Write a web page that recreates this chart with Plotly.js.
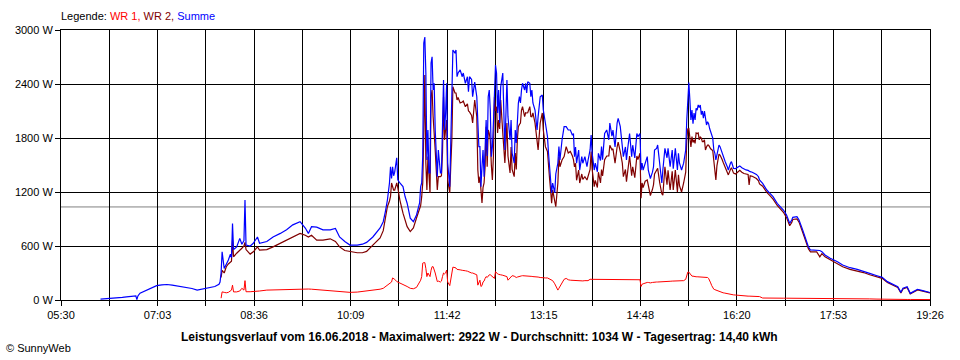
<!DOCTYPE html>
<html><head><meta charset="utf-8">
<script src="https://cdn.plot.ly/plotly-3.0.1.min.js"></script>
<style>html,body{margin:0;padding:0;background:#fff}#chart{width:960px;height:360px}</style>
</head><body><div id="chart"></div>
<script>
// time axis: minutes since midnight
const startMin = 330;   // 05:30
const endMin = 1166;    // 19:26
const tickLabels = ['05:30','07:03','08:36','10:09','11:42','13:15','14:48','16:20','17:53','19:26'];
const yTicks = [0, 600, 1200, 1800, 2400, 3000];
const durchschnitt = 1034;
const maximalwert = 2922;
const tagesertrag = '14,40';
const datum = '16.06.2018';

// early morning: only the sum is recorded
const morningTime = [368,377,382,389,393,399,402,403,404,406,411,416,422,427,432,437,442,446,451,456,461,466,470,474,478,482,483];
const morningSumme = [10,15,20,30,35,40,45,5,45,75,100,130,160,168,172,165,155,150,145,128,110,120,130,140,150,175,200];

const dayTime = [
484,485,487,489,491,493,494,495,496,499,
502,504,506,507,508,512,515,519,521,528,
534,541,547,553,560,565,568,571,576,582,
589,594,598,603,608,615,620,624,630,637,
640,642,644,646,647,648,649,650,651,653,
654,656,659,661,663,666,669,672,675,676,
677,678,679,680,681,682,683,684,685,686,
687,688,689,690,692,693,695,696,697,698,
699,700,701,702,704,705,706,707,709,710,
711,712,714,716,717,719,721,722,723,725,
726,728,730,731,732,733,734,735,736,737,
738,739,740,741,742,743,744,745,746,747,
748,749,750,751,752,753,755,757,759,760,
762,763,764,766,767,768,769,770,771,772,
773,774,776,777,778,779,781,782,783,784,
786,788,789,791,793,794,796,798,799,800,
801,802,803,805,806,808,809,810,812,814,
816,818,820,822,823,824,825,826,828,829,
831,832,834,836,837,839,840,841,843,844,
846,847,849,850,851,853,855,857,858,860,
861,863,865,866,868,870,871,873,874,875,
877,879,880,882,884,885,887,888,889,890,
892,894,895,897,899,900,901,903,904,906,
908,909,911,913,914,916,918,919,921,923,
924,925,927,929,931,932,933,934,935,936,
937,938,939,940,941,942,943,944,945,946,
947,948,949,950,951,952,953,954,955,956,
957,958,959,960,961,962,963,964,965,966,
967,968,969,971,972,974,975,976,977,979,
981,983,985,987,989,991,992,993,995,997,
999,1001,1002,1005,1009,1012,1015,1019,1022,1025,
1028,1031,1033,1034,1038,1040,1043,1046,1049,1051,
1057,1060,1062,1065,1070,1077,1082,1089,1096,1102,
1108,1115,1120,1125,1130,1135,1138,1140,1144,1147,
1150,1154,1159,1164,1166];

const daySumme = [
300,535,350,390,445,510,470,850,560,590,
685,620,660,1110,610,600,630,700,630,650,
700,740,780,835,870,800,740,815,810,780,
780,795,700,650,610,610,620,640,700,800,
870,980,1110,1300,1480,1350,1480,1380,1420,1580,
1335,1300,1260,1150,1075,910,870,945,1078,1259,
1300,1593,2856,2922,2522,1556,1889,1411,1411,2633,
2703,2333,2408,1889,1370,1667,1411,1411,1815,2444,
1889,2075,2408,1522,1259,1889,2522,2778,2744,2778,
2481,2522,2556,2481,2522,2408,2481,2314,2481,2450,
2259,2420,2259,1889,1704,1704,1259,1480,1667,1370,
1704,2000,1600,2259,2333,2111,1593,1700,1967,2408,
2611,2522,2078,2333,1967,2370,2522,1667,2444,2037,
1778,2000,1633,1522,1889,1744,2078,2189,2259,2189,
2333,2408,2333,2408,2300,2425,2408,2259,2333,2189,
2111,1889,2037,2259,2278,2111,1967,1815,1633,1444,
1300,1189,1300,1189,1400,1522,1704,1556,1778,1926,
1926,1889,1889,1830,1850,1593,1700,1520,1667,1444,
1593,1520,1593,1481,1550,1667,1833,1630,1444,1520,
1425,1630,1550,1704,1560,1850,1889,1780,1967,1820,
1889,1700,1967,2019,1930,1740,1593,1700,1556,1667,
1850,1593,1720,1578,1850,1815,1850,1444,1520,1444,
1522,1593,1444,1350,1420,1480,1667,1685,1722,1520,
1300,1444,1685,1580,1685,1480,1667,1460,1685,1444,
1630,1520,1444,1520,1667,2000,2300,2415,2222,2000,
2111,1960,2078,2000,2130,2110,2167,2140,2167,2060,
2100,2019,2100,1990,1945,1980,1960,1905,1870,1833,
1800,1667,1633,1556,1611,1667,1722,1704,1667,1630,
1593,1556,1537,1481,1444,1519,1537,1500,1463,1460,
1480,1490,1470,1455,1445,1440,1430,1426,1420,1407,
1395,1370,1333,1296,1222,1185,1148,1074,1037,1000,
944,852,889,919,926,889,796,685,592,556,
556,550,537,500,463,426,389,359,341,322,
296,270,252,204,178,148,85,130,148,74,
93,119,104,85,83];

const dayWR2 = [
250,330,300,370,400,420,430,665,480,520,
560,575,600,640,560,510,535,590,555,560,
590,630,665,700,740,720,700,720,665,665,
680,650,590,550,540,525,525,540,610,690,
770,910,1037,1100,1150,1300,1250,1220,1220,1300,
1250,1110,965,890,815,760,800,911,1000,1050,
1148,1300,1856,2500,1522,1222,1593,1300,1189,2259,
2333,2037,1900,1667,1222,1370,1370,1380,1633,2259,
1778,1926,2000,1333,1189,1500,1778,2370,2300,2300,
2222,2250,2189,2200,2210,2148,2180,2100,2090,2050,
1967,2222,2037,1445,1300,1370,1148,1078,1250,1300,
1480,1926,1480,1889,1850,1778,1500,1333,1600,2259,
2100,2148,1856,2000,1900,2222,1856,1522,1967,1600,
1411,1700,1450,1370,1633,1450,1778,1926,1950,1967,
2111,2148,2037,2080,2078,2080,2148,2040,2037,2078,
1967,1778,1667,1967,2078,1889,1704,1650,1445,1350,
1222,1075,1222,1111,1037,1300,1593,1481,1556,1593,
1704,1633,1650,1600,1560,1480,1520,1330,1444,1300,
1400,1340,1370,1333,1370,1450,1650,1450,1259,1330,
1250,1420,1300,1450,1380,1560,1600,1600,1720,1670,
1680,1520,1700,1755,1650,1520,1370,1450,1315,1420,
1600,1380,1480,1360,1600,1560,1630,1130,1300,1250,
1320,1333,1260,1160,1230,1280,1400,1444,1463,1300,
1180,1165,1480,1280,1440,1222,1430,1222,1444,1200,
1390,1270,1200,1300,1420,1778,1900,1905,1790,1700,
1815,1750,1780,1740,1856,1850,1856,1780,1810,1800,
1760,1760,1780,1667,1700,1720,1720,1690,1680,1670,
1660,1550,1444,1333,1490,1560,1620,1610,1590,1560,
1530,1500,1470,1420,1390,1450,1470,1440,1410,1400,
1420,1440,1420,1405,1400,1395,1278,1380,1375,1360,
1350,1325,1290,1265,1195,1160,1120,1050,1010,975,
915,825,860,895,900,865,770,660,570,535,
535,480,515,480,445,405,370,340,322,305,
280,255,240,195,170,140,78,122,140,68,
87,112,98,80,78];

const dayWR1 = [
20,90,85,80,85,100,110,165,90,90,
100,130,110,215,92,92,92,95,100,110,
112,118,120,122,125,123,122,120,115,112,
108,105,97,92,85,88,95,100,105,120,
130,150,165,180,190,200,245,240,230,205,
200,190,170,160,150,130,125,140,190,220,
260,410,415,415,350,260,300,270,260,330,
370,370,340,300,205,210,200,210,260,300,
290,300,333,200,160,220,300,365,360,355,
340,340,335,330,330,325,320,315,305,300,
300,290,280,165,200,220,150,160,200,210,
240,260,250,270,280,280,270,265,260,240,
315,300,290,285,280,280,275,270,260,220,
240,250,270,265,260,250,255,260,262,265,
268,270,270,268,265,265,263,262,262,260,
260,255,255,250,248,240,245,245,240,235,
230,225,215,180,150,110,130,150,200,230,
240,225,220,218,215,215,215,212,212,210,
210,212,215,215,215,230,230,230,225,225,
225,225,228,230,230,232,232,233,233,232,
232,230,232,233,232,230,228,225,225,225,
225,225,228,228,228,228,225,150,175,180,
190,195,195,190,195,198,200,200,200,200,
205,205,205,205,205,208,210,210,210,212,
212,215,215,215,230,270,310,310,290,270,
265,265,260,260,258,258,258,258,258,258,
258,258,258,258,255,250,240,220,190,160,
130,120,115,110,105,100,95,88,85,82,
80,78,75,70,68,65,62,58,57,55,
52,48,46,45,44,43,43,42,42,41,
40,40,38,22,20,20,20,20,20,20,
20,20,20,20,20,20,20,20,20,20,
18,18,18,18,17,17,16,15,14,14,
12,10,8,8,8,7,7,7,6,6,
6,6,5,5,5];

const FONT = '"Liberation Sans", Arial, sans-serif';
const RED = '#ff0000', DARKRED = '#800000', BLUE = '#0000ff';

// x ticks: 19 equally spaced grid positions, labels on every second
const nGrid = 18;
const tickvals = [], ticktext = [];
for (let k = 0; k <= nGrid; k++) {
  tickvals.push(startMin + (endMin - startMin) * k / nGrid);
  ticktext.push(k % 2 === 0 ? tickLabels[k / 2] : '');
}

const allTime = morningTime.concat(dayTime);
const nullsM = morningTime.map(() => null);
const traces = [
  {x: allTime, y: nullsM.concat(dayWR1), name: 'WR 1', mode: 'lines', line: {color: RED, width: 1}, connectgaps: false},
  {x: allTime, y: nullsM.concat(dayWR2), name: 'WR 2', mode: 'lines', line: {color: DARKRED, width: 1.2}, connectgaps: false},
  {x: allTime, y: morningSumme.concat(daySumme), name: 'Summe', mode: 'lines', line: {color: BLUE, width: 1.2}}
];

const L = 61, R = 30, T = 30, B = 60, W = 960, H = 360;
const pw = W - L - R, ph = H - T - B;
const px = v => (v - L) / pw;
const py = v => (H - B - v) / ph;

const layout = {
  width: W, height: H,
  margin: {l: L, r: R, t: T, b: B, pad: 0},
  paper_bgcolor: '#ffffff', plot_bgcolor: '#ffffff',
  showlegend: false,
  font: {family: FONT, size: 11, color: '#000'},
  xaxis: {
    range: [startMin, endMin], tickmode: 'array', tickvals: tickvals, ticktext: ticktext,
    ticks: 'outside', ticklen: 5, tickwidth: 1, tickcolor: '#000',
    showgrid: true, gridcolor: '#000', gridwidth: 1,
    showline: true, linecolor: '#000', linewidth: 1, mirror: true,
    zeroline: false, tickfont: {family: FONT, size: 11, color: '#000'}
  },
  yaxis: {
    range: [0, 3000], tickmode: 'array', tickvals: yTicks, ticktext: yTicks.map(v => v + ' W'),
    ticks: 'outside', ticklen: 5, tickwidth: 1, tickcolor: '#000',
    showgrid: true, gridcolor: '#000', gridwidth: 1,
    showline: true, linecolor: '#000', linewidth: 1, mirror: true,
    zeroline: false, tickfont: {family: FONT, size: 11, color: '#000'}
  },
  shapes: [
    {type: 'line', xref: 'paper', x0: 0, x1: 1, yref: 'y', y0: durchschnitt, y1: durchschnitt,
     line: {color: '#808080', width: 1}, layer: 'below'}
  ],
  annotations: [
    {xref: 'paper', yref: 'paper', x: px(59), y: py(16), xanchor: 'left', yanchor: 'middle', showarrow: false,
     font: {family: FONT, size: 11, color: '#000'},
     text: 'Legende: <span style="color:' + RED + '">WR 1,</span> <span style="color:' + DARKRED + '">WR 2,</span> <span style="color:' + BLUE + '">Summe</span>'},
    {xref: 'paper', yref: 'paper', x: px(479.5), y: py(337), xanchor: 'center', yanchor: 'middle', showarrow: false,
     font: {family: FONT, size: 12, color: '#000'},
     text: '<b>Leistungsverlauf vom ' + datum + ' - Maximalwert: ' + maximalwert + ' W - Durchschnitt: ' + durchschnitt + ' W - Tagesertrag: ' + tagesertrag + ' kWh</b>'},
    {xref: 'paper', yref: 'paper', x: px(4), y: py(348), xanchor: 'left', yanchor: 'middle', showarrow: false,
     font: {family: FONT, size: 11, color: '#000'}, text: '© SunnyWeb'}
  ]
};

Plotly.newPlot('chart', traces, layout, {staticPlot: true, displayModeBar: false});
</script>
</body></html>
